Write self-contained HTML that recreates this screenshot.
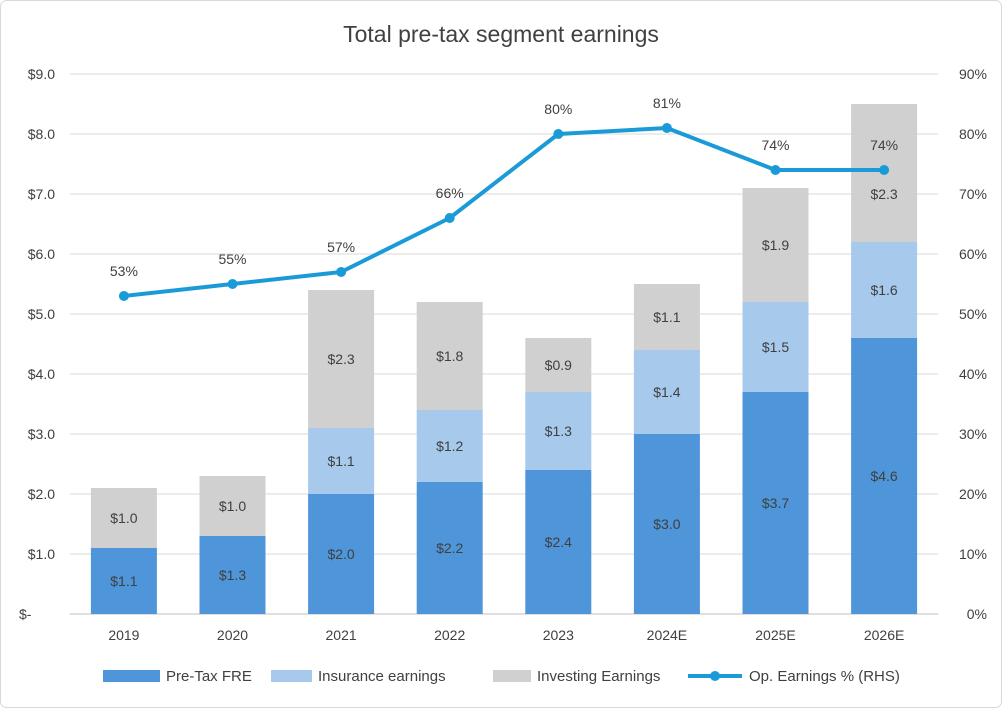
<!DOCTYPE html>
<html><head><meta charset="utf-8"><style>
body{margin:0;background:#fff;font-family:"Liberation Sans",sans-serif}
svg text{font-family:"Liberation Sans",sans-serif;fill:#404040}
</style></head><body>
<svg id="c" width="1002" height="708" xmlns="http://www.w3.org/2000/svg">
<rect x="0.5" y="0.5" width="1001" height="707" rx="6" fill="#fff" stroke="#d9d9d9"/>
<text x="501" y="42" font-size="23" text-anchor="middle">Total pre-tax segment earnings</text>
<g id="grid"></g><g id="bars"></g><g id="line"></g><g id="axes"></g>
<g>
<rect x="103" y="670" width="57" height="12" fill="#4e95d9"/>
<text x="166" y="681" font-size="15">Pre-Tax FRE</text>
<rect x="271" y="670" width="41" height="12" fill="#a6c9ec"/>
<text x="318" y="681" font-size="15">Insurance earnings</text>
<rect x="493" y="670" width="38" height="12" fill="#d0d0d0"/>
<text x="537" y="681" font-size="15">Investing Earnings</text>
<line x1="688" y1="676" x2="742" y2="676" stroke="#1a9bd7" stroke-width="4"/>
<circle cx="715" cy="676" r="5" fill="#1a9bd7"/>
<text x="749" y="681" font-size="15">Op. Earnings % (RHS)</text>
</g>
</svg>
<script>
const categories=["2019","2020","2021","2022","2023","2024E","2025E","2026E"];
const preTax=[1.1,1.3,2.0,2.2,2.4,3.0,3.7,4.6];
const insurance=[0,0,1.1,1.2,1.3,1.4,1.5,1.6];
const investing=[1.0,1.0,2.3,1.8,0.9,1.1,1.9,2.3];
const opPct=[53,55,57,66,80,81,74,74];
const leftTicks=["$-","$1.0","$2.0","$3.0","$4.0","$5.0","$6.0","$7.0","$8.0","$9.0"];
const rightTicks=["0%","10%","20%","30%","40%","50%","60%","70%","80%","90%"];
const NS="http://www.w3.org/2000/svg";
const x0=69.6,x1=938.4,yTop=74,yBot=614,maxL=9,maxR=90;
const band=(x1-x0)/categories.length;
const xc=i=>x0+band*(i+0.5);
const yL=v=>yBot-(v/maxL)*(yBot-yTop);
const yR=v=>yBot-(v/maxR)*(yBot-yTop);
function mk(tag,attrs,parent,txt){const e=document.createElementNS(NS,tag);for(const k in attrs)e.setAttribute(k,attrs[k]);if(txt!==undefined)e.textContent=txt;document.getElementById(parent).appendChild(e);return e;}
leftTicks.forEach((t,i)=>{const y=yL(i);
 const g=mk("line",{x1:x0,x2:x1,y1:y,y2:y,stroke:i===0?"#bfbfbf":"#d9d9d9","stroke-width":1},"grid");
 
 
 const l=mk("text",{x:i===0?19:55,y:y+5,"font-size":14,"text-anchor":i===0?"start":"end"},"axes",t);
 
 
 const r=mk("text",{x:987,y:y+5,"font-size":14,"text-anchor":"end"},"axes",rightTicks[i]);
 
 
});
const bw=66;
categories.forEach((c,i)=>{
 const cx=xc(i);
 const t=mk("text",{x:cx,y:640,"font-size":14,"text-anchor":"middle"},"axes",c);
 
 
 let base=0;
 [[preTax,"#4e95d9","pretax"],[insurance,"#a6c9ec","insurance"],[investing,"#d0d0d0","investing"]].forEach(([arr,col,nm])=>{
  const v=arr[i]; if(!v)return;
  const yt=yL(base+v),yb=yL(base);
  const r=mk("rect",{x:cx-bw/2,y:yt,width:bw,height:yb-yt,fill:col},"bars");
  
  
  let ly=(yt+yb)/2;
  const pointY=yR(opPct[i]);
  if(Math.abs(ly-pointY)<20) ly=pointY+24;
  const lb=mk("text",{x:cx,y:ly+5,"font-size":14,"text-anchor":"middle"},"bars","$"+v.toFixed(1));
  
  
  base+=v;
 });
});
const pts=opPct.map((v,i)=>xc(i)+","+yR(v)).join(" ");
const pl=mk("polyline",{points:pts,fill:"none",stroke:"#1a9bd7","stroke-width":4,"stroke-linejoin":"round"},"line");


opPct.forEach((v,i)=>{
 const c=mk("circle",{cx:xc(i),cy:yR(v),r:5,fill:"#1a9bd7"},"line");
 
 
 const t=mk("text",{x:xc(i),y:yR(v)-20,"font-size":14,"text-anchor":"middle"},"line",v+"%");
 
 
});
</script>
</body></html>
